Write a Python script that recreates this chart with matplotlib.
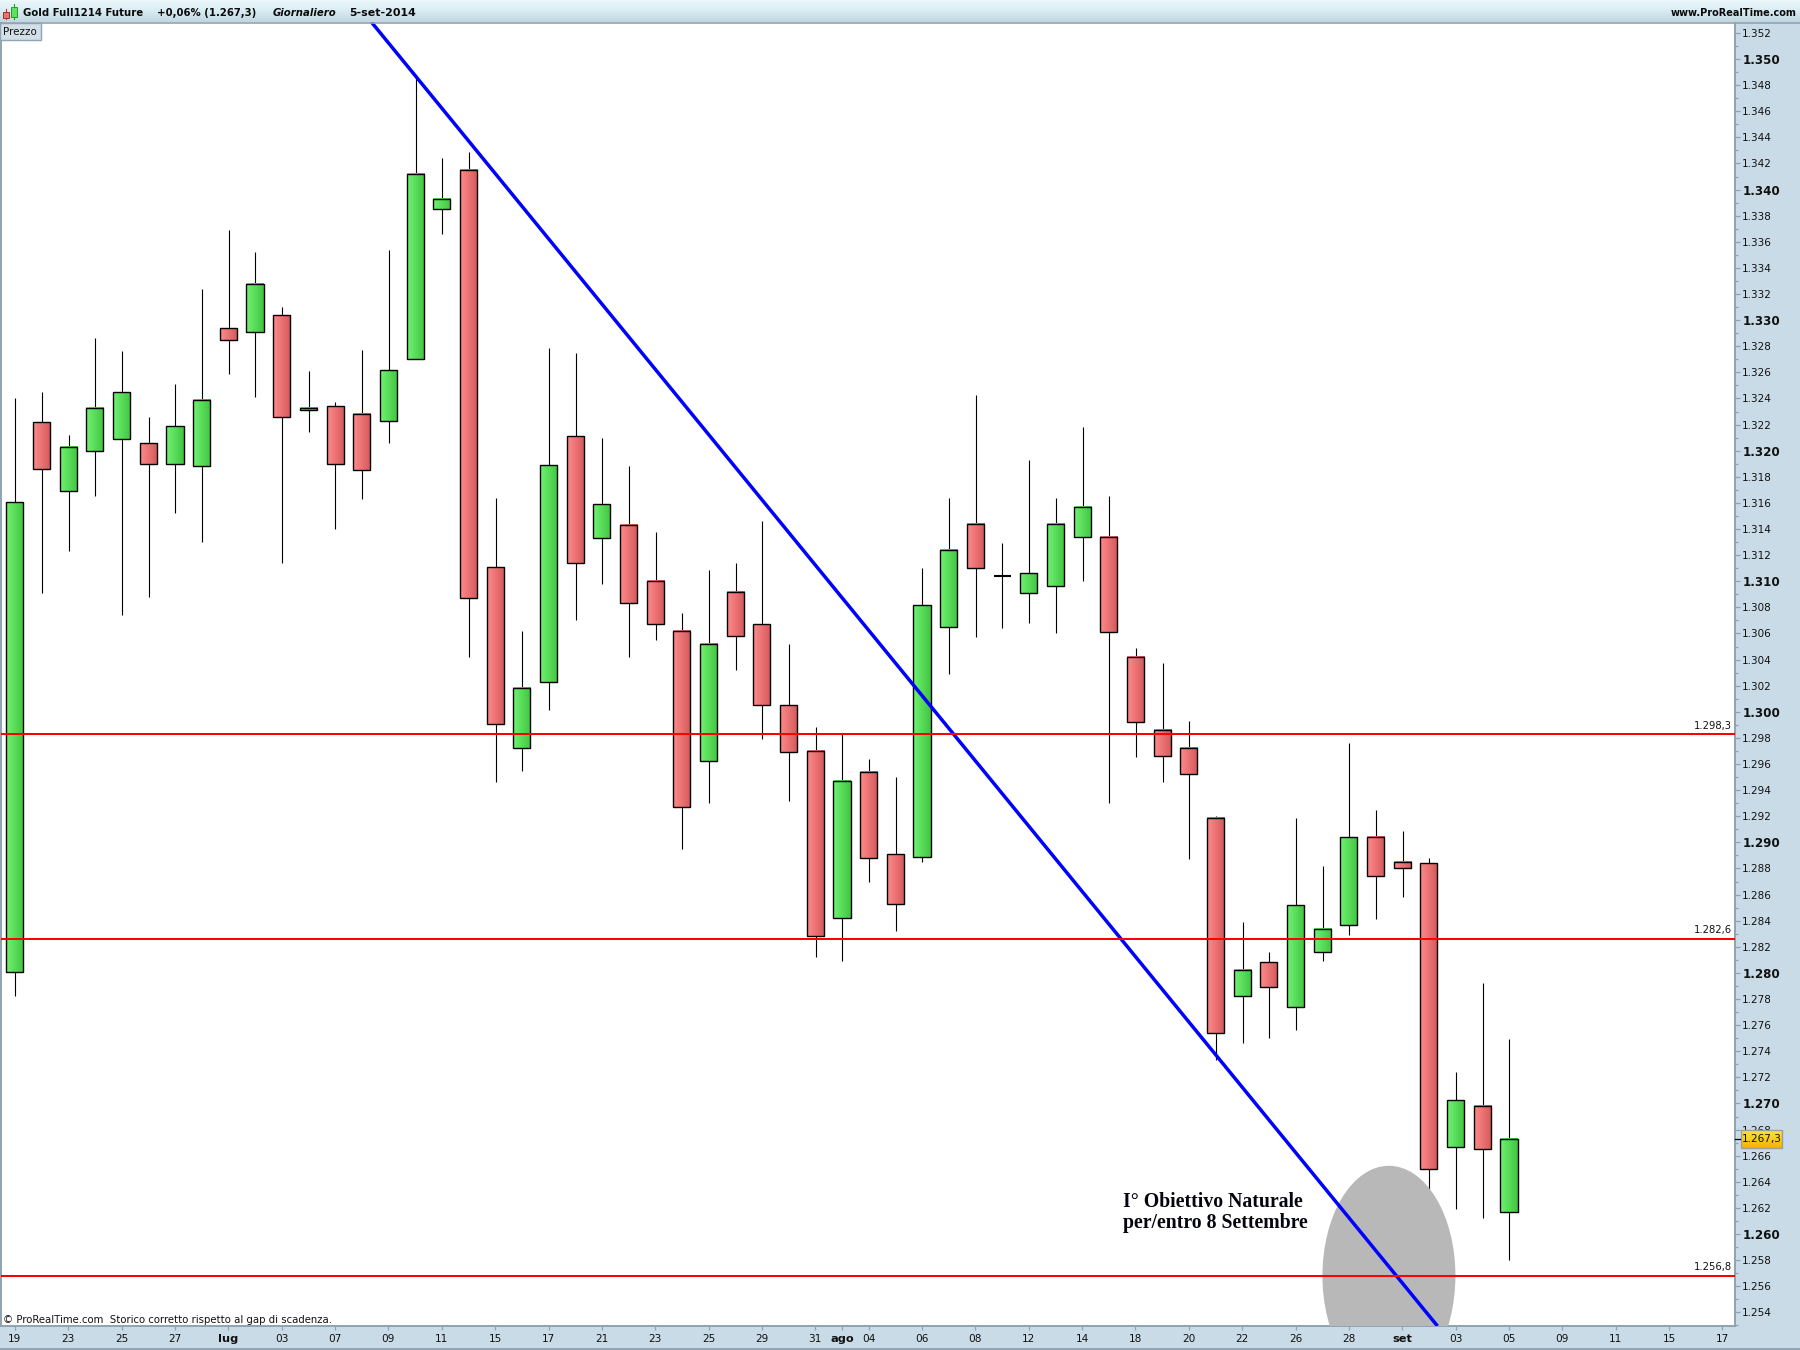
import numpy as np
import matplotlib
matplotlib.use("Agg")
import matplotlib.pyplot as plt
from matplotlib.patches import Ellipse, Rectangle
from matplotlib.colors import LinearSegmentedColormap

# ---------- data ----------
highs = [1324.0,1324.5,1321.2,1328.6,1327.6,1322.6,1325.1,1332.4,1336.9,1335.2,1331.0,1326.1,1323.7,1327.7,1335.4,
         1348.7,1342.4,1342.9,1316.4,1306.2,1327.9,1327.5,1321.0,1318.8,1313.8,1307.6,1310.9,1311.4,1314.6,1305.2,
         1298.8,1298.3,1296.4,1295.0,1311.0,1316.4,1324.3,1312.9,1319.3,1316.4,1321.8,1316.5,1304.9,1303.7,1299.3,
         1292.0,1283.9,1281.6,1291.9,1288.2,1297.6,1292.5,1290.9,1288.8,1272.4,1279.2,1274.9]
body_top = [1316.1,1322.2,1320.3,1323.3,1324.5,1320.6,1321.9,1323.9,1329.4,1332.8,1330.4,1323.3,1323.4,1322.8,1326.2,
            1341.2,1339.3,1341.5,1311.1,1301.8,1318.9,1321.1,1315.9,1314.3,1310.0,1306.2,1305.2,1309.2,1306.7,1300.5,
            1297.0,1294.7,1295.4,1289.1,1308.2,1312.4,1314.4,1310.4,1310.6,1314.4,1315.7,1313.4,1304.2,1298.6,1297.2,
            1291.9,1280.2,1280.8,1285.2,1283.4,1290.4,1290.4,1288.5,1288.4,1270.3,1269.8,1267.3]
body_bot = [1280.1,1318.6,1316.9,1320.0,1320.9,1319.0,1319.0,1318.8,1328.5,1329.1,1322.6,1323.1,1319.0,1318.5,1322.3,
            1327.0,1338.5,1308.7,1299.1,1297.2,1302.3,1311.4,1313.3,1308.3,1306.7,1292.7,1296.2,1305.8,1300.5,1296.9,
            1282.8,1284.2,1288.8,1285.3,1288.9,1306.5,1311.0,1310.4,1309.1,1309.6,1313.4,1306.1,1299.2,1296.6,1295.2,
            1275.4,1278.2,1278.9,1277.4,1281.6,1283.7,1287.4,1288.0,1265.0,1266.7,1266.5,1261.7]
lows = [1278.2,1309.1,1312.3,1316.5,1307.4,1308.8,1315.2,1313.0,1325.9,1324.1,1311.4,1321.4,1314.0,1316.3,1320.6,
        1327.0,1336.6,1304.2,1294.6,1295.5,1300.1,1307.0,1309.8,1304.2,1305.5,1289.5,1293.0,1303.2,1297.9,1293.2,
        1281.2,1280.9,1287.0,1283.2,1288.5,1302.9,1305.7,1306.4,1306.8,1306.0,1310.0,1293.0,1296.5,1294.6,1288.7,
        1273.3,1274.6,1275.0,1275.6,1280.9,1282.9,1284.1,1285.8,1263.1,1261.9,1261.2,1258.0]
# 1 = rising candle (green), 0 = falling (red), 2 = doji
rising = [1,0,1,1,1,0,1,1,0,1,0,1,0,0,1,
          1,1,0,0,1,1,0,1,0,0,0,1,0,0,0,
          0,1,0,0,1,1,0,2,1,1,1,0,0,0,0,
          0,1,0,1,1,1,0,0,0,1,0,1]

x_tick_pos = [0,2,4,6,8,10,12,14,16,18,20,22,24,26,28,30,31,32,34,36,38,40,42,44,46,48,50,52,54,56,58,60,62,64]
x_tick_lab = ["19","23","25","27","lug","03","07","09","11","15","17","21","23","25","29","31","ago","04","06",
              "08","12","14","18","20","22","26","28","set","03","05","09","11","15","17"]
x_bold = {"lug","ago","set"}

levels = [1298.3, 1282.6, 1256.8]
level_labels = ["1.298,3", "1.282,6", "1.256,8"]
last_price = 1267.3
last_label = "1.267,3"
trend_x = [13.36, 53.32]
trend_y = [1352.84, 1252.95]
target_center = (51.5, 1256.8)
target_size = (4.985, 16.85)

# ---------- layout ----------
W, H = 1800, 1350
L, R, T, B = 1, 1735, 22, 1326
X0, DX = 14.9, 26.68
Y1260, DY = 1234.0, 13.055
FONT = "DejaVu Sans"
PANEL = "#c9dbe6"
EDGE = "#8fa3b0"

fig = plt.figure(figsize=(18, 13.5), dpi=100, facecolor=PANEL)

ax = fig.add_axes([L/W, 1-B/H, (R-L)/W, (B-T)/H], facecolor="white")

gradient = np.array([np.linspace(0, 1, 24)])
gcm = LinearSegmentedColormap.from_list("g", ["#70f270", "#42c642"])
rcm = LinearSegmentedColormap.from_list("r", ["#ff8a8a", "#d45a5a"])
bw = 0.64
for i in range(len(highs)):
    ax.plot([i+0.015, i+0.015], [lows[i], highs[i]], color="black", lw=0.8, zorder=2, solid_capstyle="butt")
    if rising[i] == 2:
        ax.plot([i-bw/2, i+bw/2], [body_top[i]]*2, color="black", lw=1.5, zorder=3, solid_capstyle="butt")
        continue
    cm = gcm if rising[i] == 1 else rcm
    ax.imshow(gradient, cmap=cm, aspect="auto", zorder=3,
              extent=(i-bw/2, i+bw/2, body_bot[i], body_top[i]), interpolation="bilinear")
    ax.add_patch(Rectangle((i-bw/2, body_bot[i]), bw, body_top[i]-body_bot[i], fill=False,
                           ec="black", lw=1.0, zorder=4))
ax.set_xlim((L-X0)/DX, (R-X0)/DX)
ax.set_ylim(1260+(Y1260-B)/DY, 1260+(Y1260-T)/DY)

ax.add_patch(Ellipse(target_center, target_size[0], target_size[1], fc="#b8b8b8", ec="none", zorder=5))
ax.plot(trend_x, trend_y, color="#0000ff", lw=2.5, zorder=6, solid_capstyle="butt")
for lv, lab in zip(levels, level_labels):
    ax.axhline(lv, color="#ff0000", lw=1.45, zorder=7)
    ax.annotate(lab, (1, lv), xycoords=("axes fraction", "data"), xytext=(-2.5, 2.5), textcoords="offset points",
                ha="right", va="bottom", fontsize=7.2, family=FONT, color="#111111", zorder=8)

# axes
ax.spines["top"].set_visible(False)
for s in ("left", "right", "bottom"):
    ax.spines[s].set_color(EDGE)
    ax.spines[s].set_linewidth(1.4)

ax.yaxis.tick_right()
majors = list(range(1254, 1353, 2))
ax.set_yticks(majors)
ax.set_yticklabels([f"{v//1000}.{v%1000:03d}" for v in majors], family=FONT, fontsize=7.5, color="#111111")
ax.set_yticks(list(range(1253, 1353, 2)), minor=True)
ax.tick_params(axis="y", which="major", length=3.6, width=0.9, color=EDGE, pad=1.6)
ax.tick_params(axis="y", which="minor", length=2.2, width=0.9, color=EDGE)
for lab, v in zip(ax.get_yticklabels(), majors):
    if v % 10 == 0:
        lab.set_fontweight("bold")
        lab.set_fontsize(8.6)

ax.set_xticks(x_tick_pos)
ax.set_xticklabels(x_tick_lab, family=FONT, fontsize=7.6, color="#111111")
ax.tick_params(axis="x", length=3.0, width=0.9, color=EDGE, pad=2.8)
for lab, t in zip(ax.get_xticklabels(), x_tick_lab):
    if t in x_bold:
        lab.set_fontweight("bold")
        lab.set_fontsize(8.2)

# overlay in pixel coordinates
ov = fig.add_axes([0, 0, 1, 1], facecolor="none")
ov.axis("off")

head = LinearSegmentedColormap.from_list("h", ["#eaf7fb", "#d9ecf3", "#c2d6e0"])
ov.imshow(np.linspace(0, 1, 22).reshape(-1, 1), cmap=head, aspect="auto", extent=(0, W, 22, 0), zorder=1)
ov.set_xlim(0, W)
ov.set_ylim(H, 0)
ov.plot([0, W], [22.5, 22.5], color=EDGE, lw=1.2, zorder=2)
ov.plot([0, W], [1349, 1349], color=EDGE, lw=1.4, zorder=2)

# header icon
ov.plot([6, 6], [9, 19], color="#c03030", lw=0.8, zorder=3)
ov.add_patch(Rectangle((3, 12), 6, 5.5, fc="#f07070", ec="#a03030", lw=0.7, zorder=4))
ov.plot([14, 14], [4, 19], color="#20a020", lw=0.8, zorder=3)
ov.add_patch(Rectangle((11, 7), 6, 9.5, fc="#60e060", ec="#20a020", lw=0.7, zorder=4))

hdr = dict(family=FONT, fontsize=7.3, fontweight="bold", va="center", color="#0a0a0a", zorder=5)
ov.text(23, 12.5, "Gold Full1214 Future", **hdr)
ov.text(157, 12.5, "+0,06% (1.267,3)", **hdr)
ov.text(273, 12.5, "Giornaliero", style="italic", **hdr)
ov.text(349, 12.5, "5-set-2014", fontstretch="normal", **{**hdr, "fontsize": 7.9})
ov.text(1797, 12.5, "www.ProRealTime.com", ha="right", **{**hdr, "fontsize": 7.0})

ov.add_patch(Rectangle((0, 23), 41, 16.5, fc="#d3dfe7", ec=EDGE, lw=1.0, zorder=3))
ov.text(2.5, 32, "Prezzo", family=FONT, fontsize=7.4, va="center", color="#111111", zorder=5)
ov.text(3, 1320, "© ProRealTime.com  Storico corretto rispetto al gap di scadenza.",
        family=FONT, fontsize=7.3, va="center", color="#111111", zorder=5)

# current price tag
yel = LinearSegmentedColormap.from_list("y", ["#ffe23a", "#f4b400"])
yp = Y1260-(last_price-1260)*DY
ov.imshow(np.linspace(0, 1, 18).reshape(-1, 1), cmap=yel, aspect="auto",
          extent=(1741, 1782, yp+9, yp-9), zorder=6)
ov.set_xlim(0, W)
ov.set_ylim(H, 0)
ov.add_patch(Rectangle((1741, yp-9), 41, 18, fill=False, ec="#9aa0a0", lw=1.0, zorder=7))
ov.plot([1735, 1740], [yp, yp], color="black", lw=0.9, zorder=7)
ov.text(1761.5, yp+0.3, last_label, family=FONT, fontsize=7.6, ha="center", va="center", color="#111111", zorder=8)

# annotation
note = dict(family="Liberation Serif", fontsize=14.2, fontweight="bold", va="baseline", color="#050510", zorder=9)
ov.text(1123, 1207, "I° Obiettivo Naturale", **note)
ov.text(1123, 1228, "per/entro 8 Settembre", **note)

fig.savefig("out.png", dpi=100, facecolor=fig.get_facecolor())
